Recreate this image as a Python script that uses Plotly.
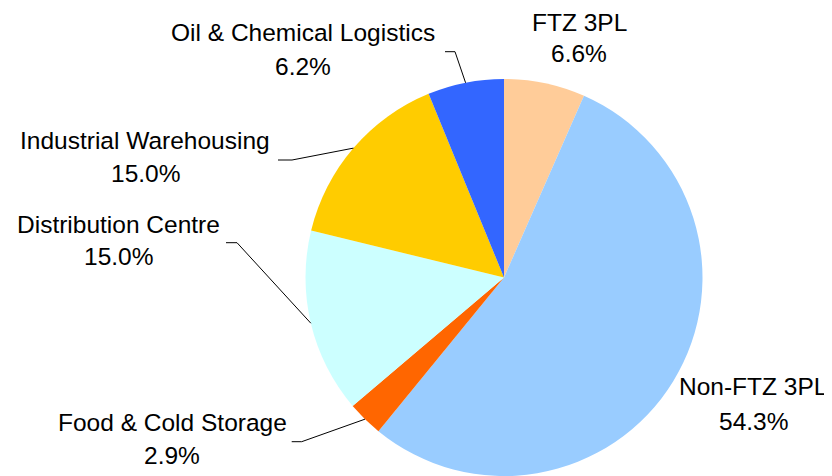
import math
import plotly.graph_objects as go

# ---- data ----
categories = ["FTZ 3PL", "Non-FTZ 3PL", "Food & Cold Storage",
              "Distribution Centre", "Industrial Warehousing", "Oil & Chemical Logistics"]
shares = [6.6, 54.3, 2.9, 15.0, 15.0, 6.2]
pct_labels = ["6.6%", "54.3%", "2.9%", "15.0%", "15.0%", "6.2%"]
colors = ["#FFCC99", "#99CCFF", "#FF6600", "#CCFFFF", "#FFCC00", "#3366FF"]

# ---- layout constants (pixels from top-left of the browser window) ----
VW, VH = 832, 476
OFF = 8                      # default page body margin
W, H = VW - OFF, VH - OFF    # figure size
CX, CY, R = 504.0, 277.5, 198.5

# label centre x, name line y, percent line y
label_pos = {
    "FTZ 3PL": (579, 22, 54),
    "Non-FTZ 3PL": (753, 386.5, 421),
    "Food & Cold Storage": (172, 422, 455.5),
    "Distribution Centre": (118, 224, 256.5),
    "Industrial Warehousing": (145, 140.5, 173),
    "Oil & Chemical Logistics": (303, 32, 66),
}
# leader lines: tail x, elbow x, elbow y
leaders = {
    "Food & Cold Storage": (291.7, 301.7, 441.7),
    "Distribution Centre": (226, 237, 242.7),
    "Industrial Warehousing": (278, 292, 160),
    "Oil & Chemical Logistics": (445, 455, 51.7),
}


def px(x):
    return (x - OFF) / W


def py(y):
    return 1 - (y - OFF) / H


fig = go.Figure(go.Pie(
    labels=categories,
    values=shares,
    sort=False,
    direction="clockwise",
    rotation=0,
    marker=dict(colors=colors, line=dict(width=0)),
    textinfo="none",
    hoverinfo="label+percent",
    showlegend=False,
    domain=dict(x=[px(CX - R), px(CX + R)], y=[py(CY + R), py(CY - R)]),
))

font = dict(family="Liberation Sans, Arial, sans-serif", size=24.5, color="#000000")
annotations = []
shapes = []
total = sum(shares)
cum = 0.0
for name, val, pct in zip(categories, shares, pct_labels):
    mid = (cum + val / 2) / total * 2 * math.pi
    cum += val
    lx, ny, pyy = label_pos[name]
    annotations.append(dict(x=px(lx), y=py(ny), xref="paper", yref="paper", text=name,
                            showarrow=False, xanchor="center", yanchor="middle", font=font))
    annotations.append(dict(x=px(lx), y=py(pyy), xref="paper", yref="paper", text=pct,
                            showarrow=False, xanchor="center", yanchor="middle", font=font))
    if name in leaders:
        tx, ex, ey = leaders[name]
        edge_x = CX + R * math.sin(mid)
        edge_y = CY - R * math.cos(mid)
        path = (f"M {px(tx)} {py(ey)} L {px(ex)} {py(ey)} "
                f"L {px(edge_x)} {py(edge_y)}")
        shapes.append(dict(type="path", path=path, xref="paper", yref="paper",
                           line=dict(color="#000000", width=1)))

fig.update_layout(
    width=W, height=H,
    margin=dict(l=0, r=0, t=0, b=0),
    paper_bgcolor="white",
    plot_bgcolor="white",
    annotations=annotations,
    shapes=shapes,
)

fig.write_html("out.html")
